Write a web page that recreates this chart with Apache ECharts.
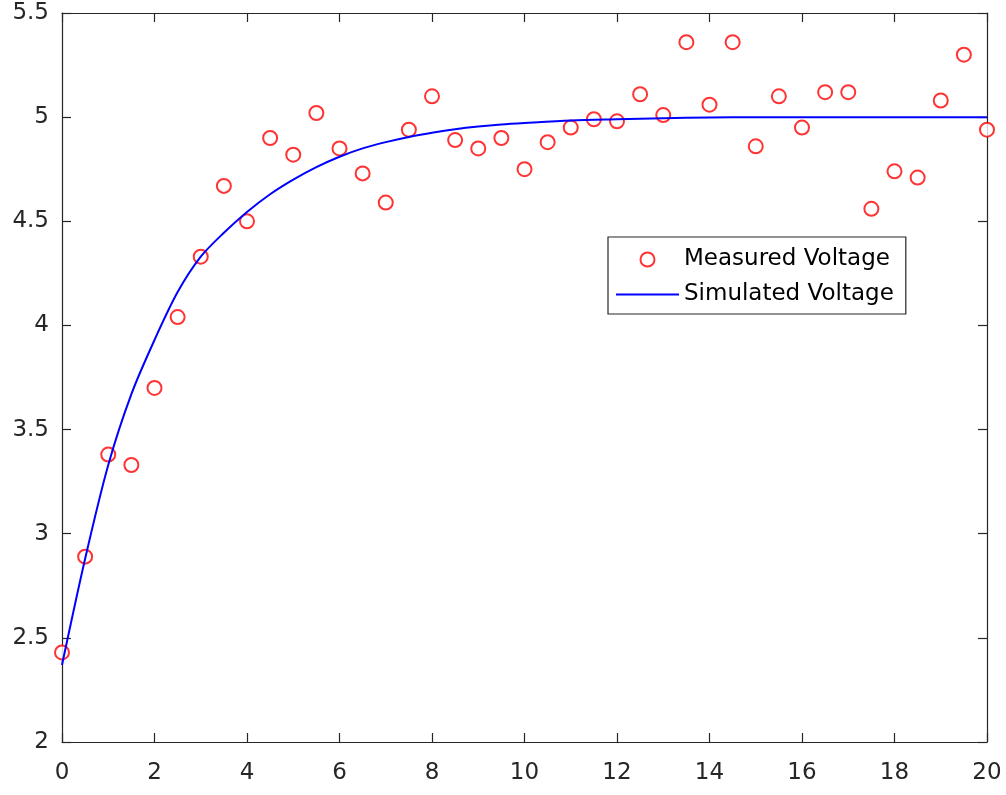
<!DOCTYPE html>
<html>
<head>
<meta charset="utf-8">
<script src="https://cdn.jsdelivr.net/npm/echarts@6/dist/echarts.min.js"></script>
<style>
  html, body { margin: 0; padding: 0; background: #fff; }
  #chart { width: 1006px; height: 795px; }
</style>
</head>
<body>
<div id="chart"></div>
<script>
// measured samples (every 0.5 s)
const timeValues = [0, 0.5, 1, 1.5, 2, 2.5, 3, 3.5, 4, 4.5, 5, 5.5, 6, 6.5, 7, 7.5, 8, 8.5, 9, 9.5,
  10, 10.5, 11, 11.5, 12, 12.5, 13, 13.5, 14, 14.5, 15, 15.5, 16, 16.5, 17, 17.5, 18, 18.5, 19, 19.5, 20]
const measuredVoltage = [2.43, 2.89, 3.38, 3.33, 3.70, 4.04, 4.33, 4.67, 4.50, 4.90, 4.82, 5.02, 4.85, 4.73, 4.59, 4.94, 5.10, 4.89, 4.85, 4.90,
  4.75, 4.88, 4.95, 4.99, 4.98, 5.11, 5.01, 5.36, 5.06, 5.36, 4.86, 5.10, 4.95, 5.12, 5.12, 4.56, 4.74, 4.71, 5.08, 5.30, 4.94]

// simulated curve
const simTime = [0, 0.5, 1, 1.5, 2, 2.5, 3, 3.5, 4, 4.5, 5, 5.5, 6, 6.5, 7, 7.5, 8, 8.5, 9, 9.5,
  10, 11, 12, 13, 14, 15, 16, 17, 18, 19, 20]
const simVoltage = [2.37, 2.88, 3.33, 3.67, 3.93, 4.16, 4.33, 4.445, 4.545, 4.63, 4.70, 4.76, 4.81, 4.85, 4.88, 4.905, 4.925, 4.942, 4.955, 4.965,
  4.972, 4.984, 4.99, 4.995, 4.998, 5.0, 5.0, 5.0, 5.0, 5.0, 5.0]

const axisColor = '#262626'
const font = 'DejaVu Sans'

const chart = echarts.init(document.getElementById('chart'))

const boxAxis = (pos, extra) => Object.assign({
  type: 'value',
  position: pos,
  axisLine: { show: true, onZero: false, lineStyle: { color: axisColor, width: 1.2 } },
  axisTick: { show: true, inside: true, length: 9, lineStyle: { color: axisColor, width: 1.2 } },
  splitLine: { show: false }
}, extra)

chart.setOption({
  animation: false,
  grid: { left: 62, right: 19, top: 13, bottom: 53 },
  legend: {
    orient: 'vertical',
    left: 608,
    top: 237,
    padding: [11, 12, 8, 8],
    itemGap: 12,
    itemWidth: 63,
    itemHeight: 14,
    borderColor: axisColor,
    borderWidth: 1.2,
    backgroundColor: '#fff',
    textStyle: { fontFamily: font, fontSize: 23, color: '#000' },
    data: [
      'Measured Voltage',
      { name: 'Simulated Voltage', icon: 'path://M0,0H63V2H0Z' }
    ]
  },
  xAxis: [
    boxAxis('bottom', {
      min: 0, max: 20, interval: 2,
      axisLabel: { fontFamily: font, fontSize: 23, color: axisColor, margin: 20 }
    }),
    boxAxis('top', { min: 0, max: 20, interval: 2, axisLabel: { show: false } })
  ],
  yAxis: [
    boxAxis('left', {
      min: 2, max: 5.5, interval: 0.5,
      axisLabel: { fontFamily: font, fontSize: 23, color: axisColor, margin: 13 }
    }),
    boxAxis('right', { min: 2, max: 5.5, interval: 0.5, axisLabel: { show: false } })
  ],
  series: [
    {
      name: 'Measured Voltage',
      type: 'scatter',
      symbol: 'emptyCircle',
      symbolSize: 14,
      itemStyle: { color: '#ff0000', borderColor: '#ff0000', borderWidth: 1.5 },
      data: timeValues.map((t, i) => [t, measuredVoltage[i]]),
      z: 2
    },
    {
      name: 'Simulated Voltage',
      type: 'line',
      smooth: 0.3,
      symbol: 'none',
      lineStyle: { color: '#0000ff', width: 2 },
      itemStyle: { color: '#0000ff' },
      data: simTime.map((t, i) => [t, simVoltage[i]]),
      z: 3
    }
  ]
})
</script>
</body>
</html>
